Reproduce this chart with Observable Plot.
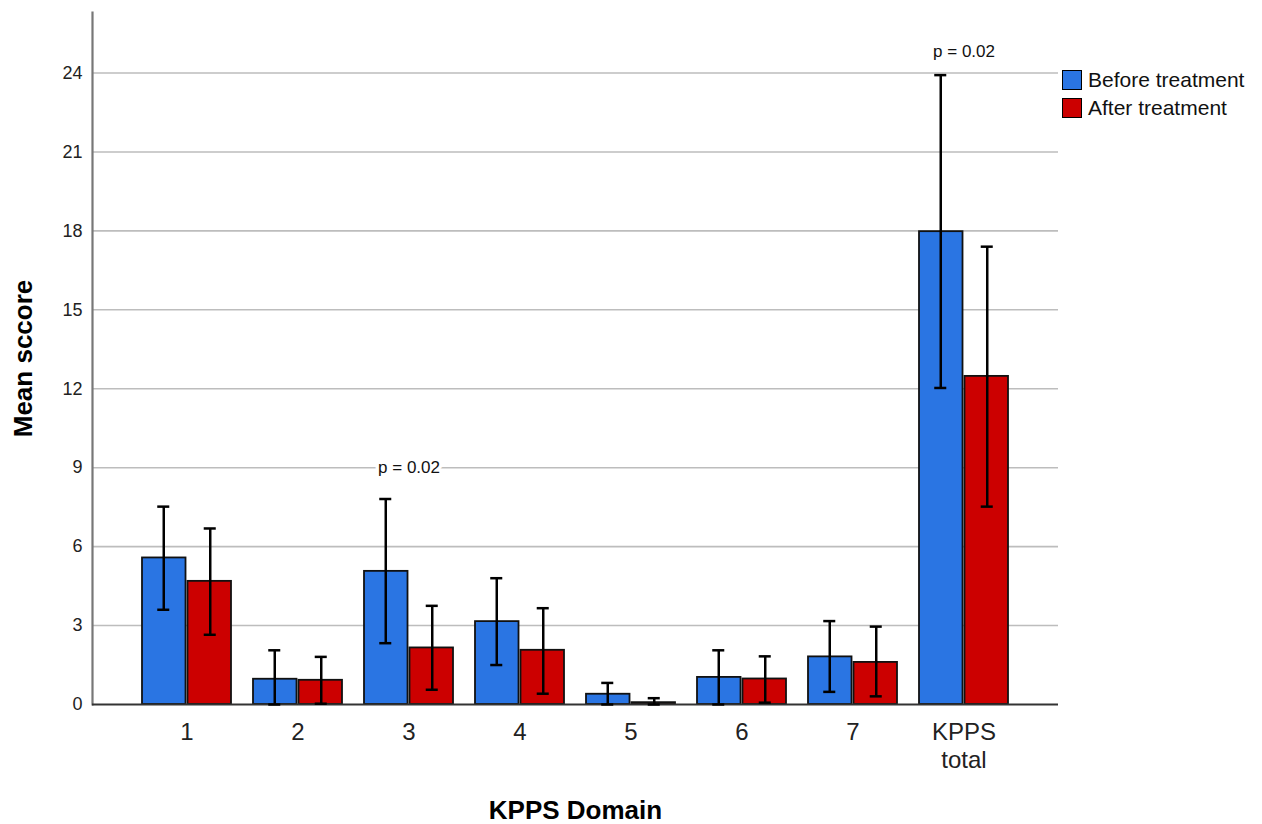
<!DOCTYPE html>
<html>
<head>
<meta charset="utf-8">
<script src="https://cdn.jsdelivr.net/npm/d3@7"></script>
<script src="https://cdn.jsdelivr.net/npm/@observablehq/plot@0.6"></script>
<style>
  html, body { margin: 0; padding: 0; background: #fff; }
  #wrap { position: relative; width: 1262px; height: 824px; font-family: "Liberation Sans", Arial, sans-serif; }
  .legend { position: absolute; left: 1062px; top: 66px; }
  .legend .row { display: flex; align-items: center; height: 28px; }
  .legend .sw { width: 18px; height: 18px; border: 1.5px solid #000; margin-right: 6px; box-sizing: content-box; }
  .legend .lab { font-size: 21px; color: #111; white-space: nowrap; }
</style>
</head>
<body>
<div id="wrap"></div>
<script>
// ---- data ----
const categories = ["1", "2", "3", "4", "5", "6", "7", "KPPS total"];
const tickLabels = ["1", "2", "3", "4", "5", "6", "7", "KPPS\ntotal"];
const seriesNames = ["Before treatment", "After treatment"];
const seriesColors = ["#2a75e3", "#cc0000"];

const beforeMean = [5.57, 0.96, 5.06, 3.15, 0.39, 1.03, 1.81, 17.97];
const beforeLow  = [3.60, 0.00, 2.33, 1.50, 0.00, 0.00, 0.48, 12.03];
const beforeHigh = [7.52, 2.06, 7.81, 4.80, 0.82, 2.06, 3.17, 23.92];

const afterMean = [4.68, 0.92, 2.15, 2.06, 0.07, 0.97, 1.60, 12.47];
const afterLow  = [2.65, 0.03, 0.56, 0.41, 0.00, 0.07, 0.31, 7.52];
const afterHigh = [6.69, 1.81, 3.75, 3.66, 0.24, 1.83, 2.96, 17.40];

const yTicks = [0, 3, 6, 9, 12, 15, 18, 21, 24];
const yMax = 26.3;

const pCategories = ["3", "KPPS total"];
const pPositions = [9.0, 24.8];
const pTexts = ["p = 0.02", "p = 0.02"];

const xTitle = "KPPS Domain";
const yTitle = "Mean sccore";

// ---- tables ----
const before = categories.map((c, i) => ({cat: c, series: seriesNames[0], mean: beforeMean[i], low: beforeLow[i], high: beforeHigh[i]}));
const after = categories.map((c, i) => ({cat: c, series: seriesNames[1], mean: afterMean[i], low: afterLow[i], high: afterHigh[i]}));
const notes = pCategories.map((c, i) => ({cat: c, y: pPositions[i], text: pTexts[i]}));
const tickLabelOf = new Map(categories.map((c, i) => [c, tickLabels[i]]));

// ---- layout ----
const W = 1262, H = 824;
const mL = 92, mR = 204, mT = 12, mB = 120;
const pInner = 0.2, pOuter = 0.443;
const plotW = W - mL - mR;
const step = plotW / (categories.length - pInner + 2 * pOuter);
const bw = step * (1 - pInner);
const gap = 2;
const half = bw / 2;
const off = (half + gap) / 2;   // offset from band centre to each bar centre
const capW = 12;
const capInset = (bw - capW) / 2;

const errStyle = {stroke: "#000", strokeWidth: 2.5};

const chart = Plot.plot({
  width: W,
  height: H,
  marginLeft: mL,
  marginRight: mR,
  marginTop: mT,
  marginBottom: mB,
  style: {fontFamily: "'Liberation Sans', Arial, sans-serif", background: "white", color: "#222"},
  x: {type: "band", domain: categories, paddingInner: pInner, paddingOuter: pOuter, align: 0.5, axis: null},
  y: {domain: [0, yMax], axis: null},
  color: {domain: seriesNames, range: seriesColors},
  marks: [
    Plot.ruleY(yTicks.filter(d => d > 0), {stroke: "#bdbdbd", strokeWidth: 1.6}),
    Plot.barY(before, {x: "cat", y: "mean", fill: "series", stroke: "#111", strokeWidth: 1.8, insetRight: half + gap / 2}),
    Plot.barY(after, {x: "cat", y: "mean", fill: "series", stroke: "#111", strokeWidth: 1.8, insetLeft: half + gap / 2}),
    Plot.frame({anchor: "left", stroke: "#777", strokeWidth: 2.2}),
    Plot.ruleY([0], {stroke: "#333", strokeWidth: 2}),
    Plot.axisY({ticks: yTicks, tickSize: 0, tickPadding: 10, fontSize: 18, label: null}),
    Plot.axisX({tickSize: 0, tickPadding: 16, fontSize: 24, label: null, lineHeight: 1.15, tickFormat: d => tickLabelOf.get(d), fill: "#222"}),
    // error bars
    Plot.ruleX(before, {x: "cat", y1: "low", y2: "high", dx: -off, ...errStyle}),
    Plot.ruleX(after, {x: "cat", y1: "low", y2: "high", dx: off, ...errStyle}),
    Plot.tickY(before, {x: "cat", y: "high", dx: -off, insetLeft: capInset, insetRight: capInset, ...errStyle}),
    Plot.tickY(before, {x: "cat", y: "low", dx: -off, insetLeft: capInset, insetRight: capInset, ...errStyle}),
    Plot.tickY(after, {x: "cat", y: "high", dx: off, insetLeft: capInset, insetRight: capInset, ...errStyle}),
    Plot.tickY(after, {x: "cat", y: "low", dx: off, insetLeft: capInset, insetRight: capInset, ...errStyle}),
    // p-value annotations
    Plot.text(notes, {x: "cat", y: "y", text: "text", fontSize: 17, fill: "#111", stroke: "white", strokeWidth: 7, paintOrder: "stroke"}),
    // axis titles
    Plot.text([yTitle], {frameAnchor: "left", textAnchor: "middle", lineAnchor: "middle", rotate: -90, dx: -69, fontSize: 26, fontWeight: "bold", fill: "#000"}),
    Plot.text([xTitle], {frameAnchor: "bottom", textAnchor: "middle", lineAnchor: "middle", dy: 106, fontSize: 26, fontWeight: "bold", fill: "#000"})
  ]
});

const wrap = document.getElementById("wrap");
wrap.appendChild(chart);

// legend
const legend = document.createElement("div");
legend.className = "legend";
seriesNames.forEach((name, i) => {
  const row = document.createElement("div");
  row.className = "row";
  const sw = document.createElement("div");
  sw.className = "sw";
  sw.style.background = seriesColors[i];
  const lab = document.createElement("span");
  lab.className = "lab";
  lab.textContent = name;
  row.appendChild(sw);
  row.appendChild(lab);
  legend.appendChild(row);
});
wrap.appendChild(legend);
</script>
</body>
</html>
